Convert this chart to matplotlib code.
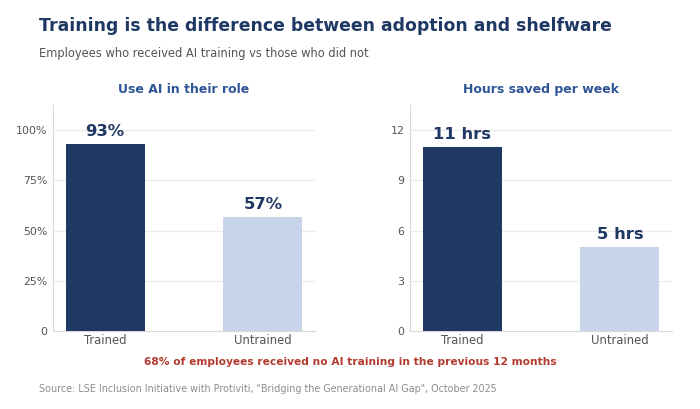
import matplotlib

matplotlib.use("Agg")
import matplotlib.pyplot as plt
from matplotlib.ticker import FixedLocator

categories = ["Trained", "Untrained"]
use_ai_pct = [93, 57]
hours_saved = [11, 5]
use_ai_labels = ["93%", "57%"]
hours_labels = ["11 hrs", "5 hrs"]
use_ai_ticks = [0, 25, 50, 75, 100]
use_ai_ticklabels = ["0", "25%", "50%", "75%", "100%"]
hours_ticks = [0, 3, 6, 9, 12]

NAVY = "#1f3864"
LIGHT = "#c7d4e9"
SUB_BLUE = "#2f5597"
GRID = "#ebebeb"
SPINE = "#d9d9d9"
TICK = "#555555"


def draw_panel(ax, values, labels, ticks, ticklabels, ymax, title):
    x = list(range(len(categories)))
    ax.bar(x, values, width=0.5, color=[NAVY, LIGHT], zorder=3)
    for xi, v, lab in zip(x, values, labels):
        ax.annotate(lab, (xi, v), xytext=(0, 3.5), textcoords="offset points",
                    ha="center", va="bottom", fontsize=11.8, fontweight="bold",
                    color=NAVY, zorder=4)
    ax.set_xlim(-0.33, 1.33)
    ax.set_ylim(0, ymax)
    ax.set_xticks(x)
    ax.set_xticklabels(categories, fontsize=8.4, color=TICK)
    ax.yaxis.set_major_locator(FixedLocator(ticks))
    ax.set_yticklabels(ticklabels, fontsize=7.9, color=TICK)
    ax.tick_params(length=0, pad=4)
    ax.tick_params(axis="x", pad=2.5)
    ax.grid(axis="y", color=GRID, linewidth=0.8, zorder=0)
    for side in ("top", "right"):
        ax.spines[side].set_visible(False)
    for side in ("left", "bottom"):
        ax.spines[side].set_color(SPINE)
        ax.spines[side].set_linewidth(0.8)
    ax.set_title(title, fontsize=9, fontweight="bold", color=SUB_BLUE, pad=9)


fig = plt.figure(figsize=(7.0, 4.09), dpi=100)
ax1 = fig.add_axes([0.0757, 0.1907, 0.3743, 0.5523])
ax2 = fig.add_axes([0.5857, 0.1907, 0.3743, 0.5523])

draw_panel(ax1, use_ai_pct, use_ai_labels, use_ai_ticks, use_ai_ticklabels,
           112.5, "Use AI in their role")
draw_panel(ax2, hours_saved, hours_labels, hours_ticks,
           [str(t) for t in hours_ticks], 13.5, "Hours saved per week")

fig.text(39 / 700, 1 - 26 / 409, "Training is the difference between adoption and shelfware",
         fontsize=12.4, fontweight="bold", color=NAVY, va="center", ha="left")
fig.text(39 / 700, 1 - 53 / 409, "Employees who received AI training vs those who did not",
         fontsize=8.3, color="#555555", va="center", ha="left")
fig.text(350 / 700, 1 - 362 / 409,
         "68% of employees received no AI training in the previous 12 months",
         fontsize=7.7, fontweight="bold", color="#b23b2e", va="center", ha="center")
fig.text(39 / 700, 1 - 389 / 409,
         'Source: LSE Inclusion Initiative with Protiviti, "Bridging the Generational AI Gap", October 2025',
         fontsize=6.9, color="#8c8c8c", va="center", ha="left")

fig.savefig("out.png", dpi=100, facecolor="white")
